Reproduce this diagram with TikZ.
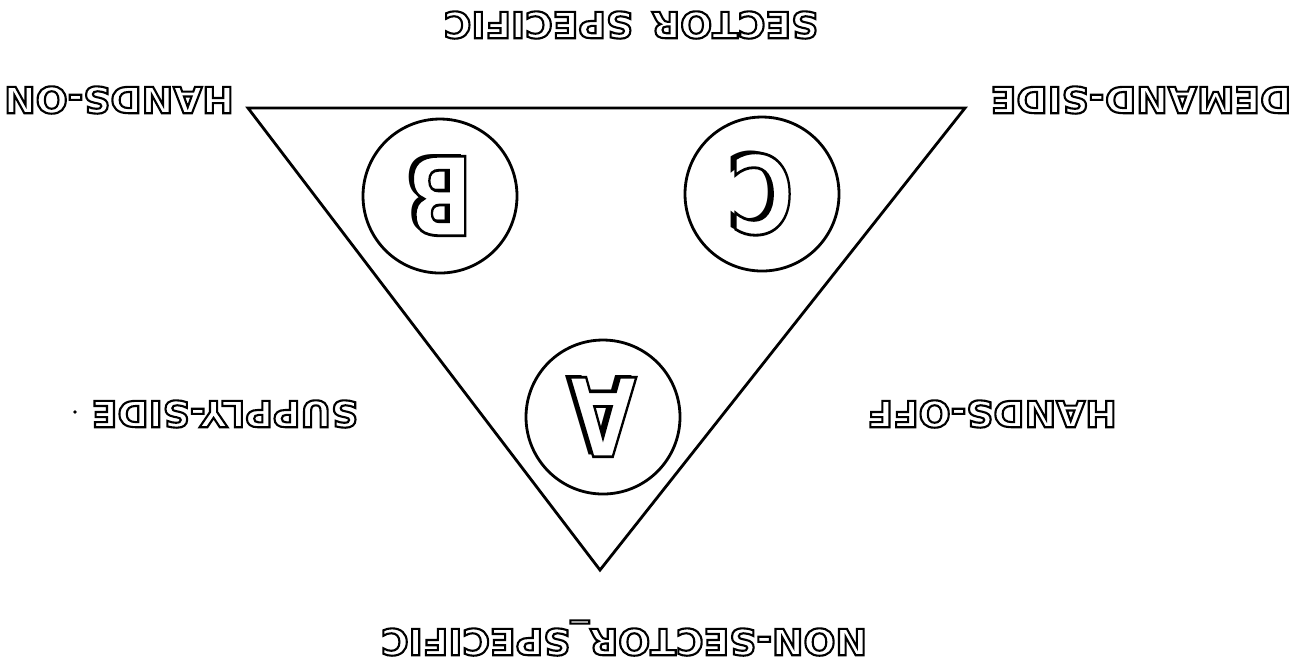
\documentclass[tikz,border=0pt]{standalone}
\usepackage{fontspec}
\usepackage{tikz}
\usepackage{xcolor}
\usetikzlibrary{positioning,calc}
\setmainfont{DejaVu Sans}
\newfontfamily\labelfont[FakeStretch=1.04]{DejaVu Sans Bold}
\newcommand{\hollow}[1]{\special{pdf:literal direct 1 Tr 0.6 w}#1\special{pdf:literal direct 0 Tr}}
\newcommand{\bigletter}[1]{\special{pdf:literal direct 2 Tr 0.8 w 1 g 0 G}#1\special{pdf:literal direct 0 Tr 0 g}}
\tikzset{
    % upside-down caption text
    labeltext/.style={
        rotate=180,
        inner sep=0pt,
        font=\labelfont\fontsize{10.3}{11}\selectfont
    },
    % circle round a letter
    sectorcircle/.style={
        draw,
        circle,
        line width=0.8pt,
        minimum size=15.4mm,
        inner sep=0pt
    },
    % letter in a circle
    lettertext/.style={
        rotate=180,
        xscale=0.8,
        inner sep=0pt,
        font=\bfseries\fontsize{31}{31}\selectfont
    },
    lettershadow/.style={
        lettertext,
        text=black
    }
}
\begin{document}
\begin{tikzpicture}[x=0.1mm,y=-0.1mm]
        \useasboundingbox (0,0) rectangle (1292,659);

        % Triangle
        \coordinate (tl) at (248,108);
        \coordinate (tr) at (965,108);
        \coordinate (bt) at (600,570);
        \draw[line width=0.8pt, line join=miter] (tl) -- (tr) -- (bt) -- cycle;

        % Circles
        \node[sectorcircle] (cb) at (440,196) {};
        \node[sectorcircle] (cc) at (762,194) {};
        \node[sectorcircle] (ca) at (603,417) {};

        % Letters
        \node[lettershadow] at ($(cb)+(-4,-2)$) {B};
        \node[lettertext] (lb) at (cb) {\bigletter{B}};
        \node[lettershadow] at ($(cc)+(-4,-2)$) {C};
        \node[lettertext] (lc) at (cc) {\bigletter{C}};
        \node[lettershadow] at ($(ca)+(-4,-2)$) {A};
        \node[lettertext] (la) at (ca) {\bigletter{A}};

        % Labels
        \node[labeltext] (sector) at (631,25) {\hollow{SECTOR\hspace{0.5em}SPECIFIC}};
        \node[labeltext] (handson) at (119,100) {\hollow{HANDS-ON}};
        \node[labeltext] (demand) at (1141,100) {\hollow{DEMAND-SIDE}};
        \node[labeltext] (supply) at (225,414) {\hollow{SUPPLY-SIDE}};
        \node[labeltext] (handsoff) at (992,414) {\hollow{HANDS-OFF}};
        \node[labeltext] (nonsector) at (624,638) {\hollow{NON-SECTOR\_SPECIFIC}};

        % stray dot
        \fill (75,412) circle (1.8);
    \end{tikzpicture}
\end{document}
